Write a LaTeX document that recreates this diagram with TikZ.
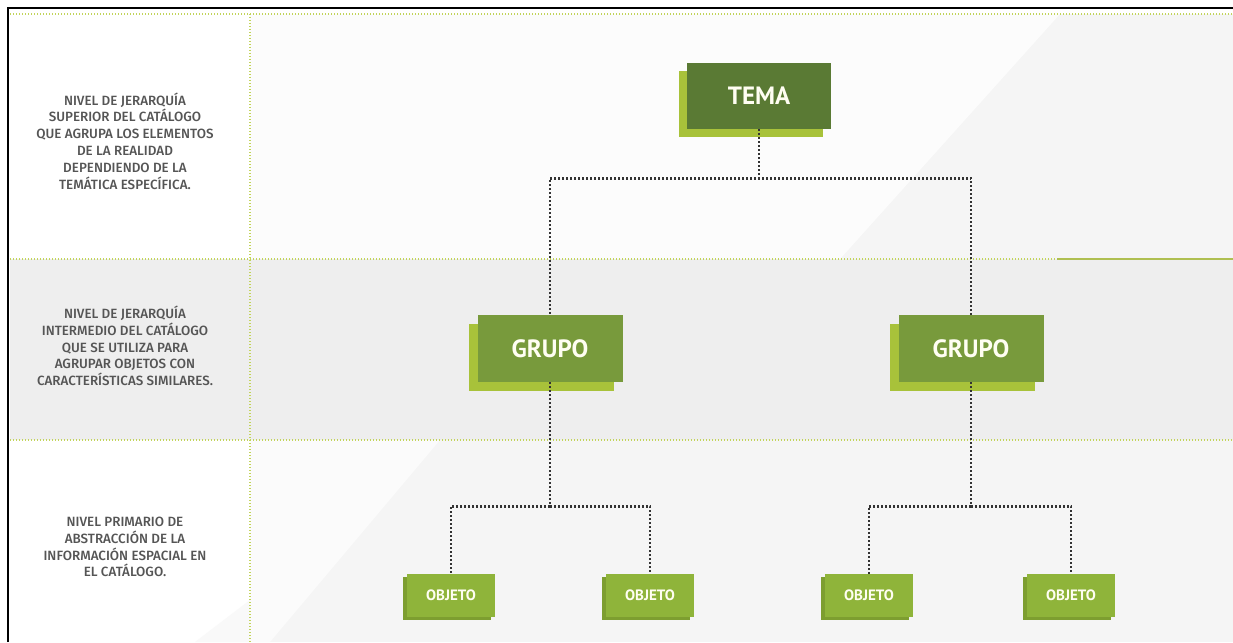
\documentclass[tikz,border=0pt]{standalone}
\usepackage{fontspec}
\setmainfont{PT Sans}
\newfontfamily\labelfont[UprightFont={* Medium}]{Fira Sans}
\usetikzlibrary{shadows}

\definecolor{temagreen}{HTML}{5A7A34}
\definecolor{grupogreen}{HTML}{789A3C}
\definecolor{limeshade}{HTML}{A8C23A}
\definecolor{objgreen}{HTML}{8FB43A}
\definecolor{objshade}{HTML}{7D9E30}
\definecolor{labelgrey}{HTML}{555555}
\definecolor{sepgreen}{HTML}{C2D45A}
\definecolor{linkgrey}{HTML}{333333}

\begin{document}
\begin{tikzpicture}[x=1pt,y=-1pt,
    sepline/.style={sepgreen,line width=1.6pt,dash pattern=on 1.4pt off 1.6pt},
    link/.style={linkgrey,line width=2.8pt,dash pattern=on 2pt off 2pt},
    levellabel/.style={labelgrey,align=center,font=\labelfont\fontsize{13.4}{16.8}\selectfont},
    tema/.style={fill=temagreen,minimum width=144pt,minimum height=66pt,inner sep=0pt,
        text=white!95!yellow,font=\bfseries\fontsize{25}{25}\selectfont,
        drop shadow={shadow xshift=-8pt,shadow yshift=-8pt,fill=limeshade,opacity=1}},
    grupo/.style={fill=grupogreen,minimum width=145pt,minimum height=67pt,inner sep=0pt,
        text=white!95!yellow,font=\bfseries\fontsize{25}{25}\selectfont,
        drop shadow={shadow xshift=-9pt,shadow yshift=-9pt,fill=limeshade,opacity=1}},
    objeto/.style={fill=objgreen,minimum width=88pt,minimum height=43pt,inner sep=0pt,
        text=white!95!yellow,font=\bfseries\fontsize{15}{15}\selectfont,
        drop shadow={shadow xshift=-4pt,shadow yshift=-3pt,fill=objshade,opacity=1}}]
    \useasboundingbox (0,0) rectangle (1233,642);
    % backgrounds
    \fill[white] (0,0) rectangle (1233,642);
    \fill[gray!8] (250,14) rectangle (1233,642);
    \fill[white!70!gray!8] (250,14) -- (1060,14) -- (840,259) -- (250,259) -- cycle;
    \fill[gray!13] (10,259) rectangle (1233,440);
    \fill[white!60!gray!8] (250,440) -- (440,440) -- (270,642) -- (250,642) -- cycle;
    \fill[gray!5] (195,642) -- (250,600) -- (250,642) -- cycle;
    % frame
    \draw[black,line width=1.1pt] (8,642) -- (8,8) -- (1233,8);
    % level separators
    \draw[sepline] (10,14) -- (1233,14);
    \draw[sepline] (10,259) -- (1057,259);
    \draw[sepgreen!90!black,line width=2pt] (1057,259) -- (1233,259);
    \draw[sepline] (10,440) -- (1233,440);
    \draw[sepline] (250,14) -- (250,642);
    % level texts
    \node[levellabel] (txtTema) at (125,141) {NIVEL DE JERARQUÍA\\SUPERIOR DEL CATÁLOGO\\QUE AGRUPA LOS ELEMENTOS\\DE LA REALIDAD\\DEPENDIENDO DE LA\\TEMÁTICA ESPECÍFICA.};
    \node[levellabel] (txtGrupo) at (125,346) {NIVEL DE JERARQUÍA\\INTERMEDIO DEL CATÁLOGO\\QUE SE UTILIZA PARA\\AGRUPAR OBJETOS CON\\CARACTERÍSTICAS SIMILARES.};
    \node[levellabel] (txtObjeto) at (125,547) {NIVEL PRIMARIO DE\\ABSTRACCIÓN DE LA\\INFORMACIÓN ESPACIAL EN\\EL CATÁLOGO.};
    % hierarchy
    \node[tema] (tema) at (759,96) {TEMA};
    \node[grupo] (grupoA) at (550,348.5) {GRUPO};
    \node[grupo] (grupoB) at (971,348.5) {GRUPO};
    \node[objeto] (objA) at (451,595.5) {OBJETO};
    \node[objeto] (objB) at (650,595.5) {OBJETO};
    \node[objeto] (objC) at (869,595.5) {OBJETO};
    \node[objeto] (objD) at (1071,595.5) {OBJETO};
    \draw[link] (tema.south) -- ++(0,49) -| (grupoA.north);
    \draw[link] (tema.south) -- ++(0,49) -| (grupoB.north);
    \draw[link] (grupoA.south) -- ++(0,124) -| (objA.north);
    \draw[link] (grupoA.south) -- ++(0,124) -| (objB.north);
    \draw[link] (grupoB.south) -- ++(0,124) -| (objC.north);
    \draw[link] (grupoB.south) -- ++(0,124) -| (objD.north);
\end{tikzpicture}
\end{document}
